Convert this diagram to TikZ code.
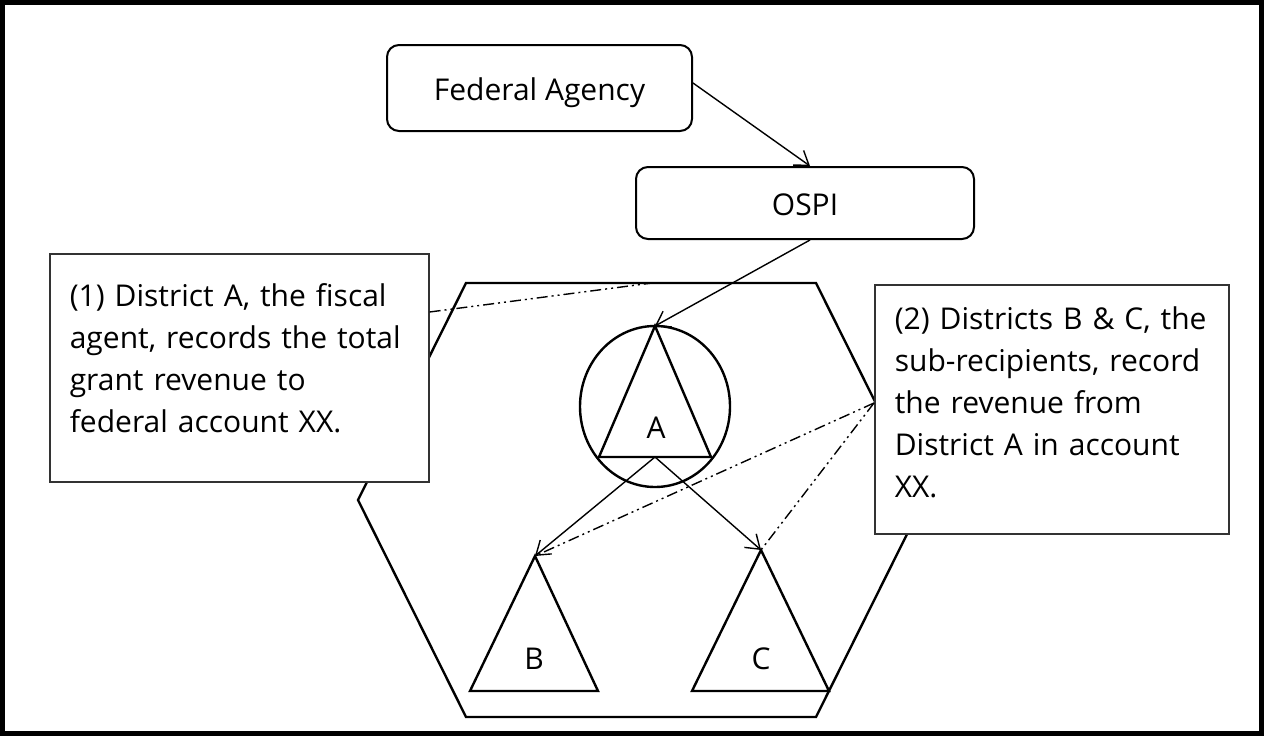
\documentclass[tikz,border=0pt]{standalone}
\usepackage{fontspec}
\setmainfont{Open Sans}
\usetikzlibrary{arrows.meta,shapes.geometric,calc}
\tikzset{
  frame/.style={line width=5pt},
  hexline/.style={line width=2.4pt, line join=miter},
  tri/.style={line width=2.4pt, line join=miter},
  roundbox/.style={draw, line width=2pt, rounded corners=12pt, fill=white, inner sep=0pt, text height=24pt, text depth=0pt},
  notebox/.style={draw=black!80, line width=1.6pt, fill=white, align=left, inner sep=20pt, anchor=north west, text height=23pt},
  flow/.style={line width=1.4pt, -{Straight Barb[length=13pt,width=18pt]}},
  callout/.style={line width=1.4pt, dash pattern=on 11pt off 4pt on 2pt off 4pt on 2pt off 4pt},
  lbl/.style={anchor=base, inner sep=0pt},
}
\begin{document}
\begin{tikzpicture}[x=1pt,y=-1pt,font=\fontsize{30}{42}\selectfont]
\useasboundingbox (0,0) rectangle (1264,736);
\draw[frame] (2.5,2.5) rectangle (1261.5,733.5);

% hexagon
\draw[hexline] (466,283) -- (816,283) -- (924,500) -- (816,717) -- (466,717) -- (358,500) -- cycle;

% shape coordinates
\coordinate (Atop) at (655,326);
\coordinate (Abl) at (599,457);
\coordinate (Abr) at (711,457);
\coordinate (Abase) at (655,457);
\coordinate (Btop) at (535,556);
\coordinate (Bl) at (470,691);
\coordinate (Br) at (598,691);
\coordinate (Ctop) at (761,550);
\coordinate (Cl) at (692,691);
\coordinate (Cr) at (829,691);
\coordinate (hexTop) at (652,283);

% district A circle and triangles
\node[ellipse, draw, line width=2.4pt, minimum width=150pt, minimum height=161pt, inner sep=0pt] (circA) at (655,406.5) {};
\draw[tri] (Atop) -- (Abr) -- (Abl) -- cycle;
\draw[tri] (Btop) -- (Br) -- (Bl) -- cycle;
\draw[tri] (Ctop) -- (Cr) -- (Cl) -- cycle;
\node[lbl] (labA) at (656,438) {A};
\node[lbl] (labB) at (534,669) {B};
\node[lbl] (labC) at (761,669) {C};

% top boxes
\node[roundbox, minimum width=305pt, minimum height=86pt] (FA) at (539.5,88) {Federal Agency};
\node[roundbox, minimum width=338pt, minimum height=72pt] (OSPI) at (805,203) {OSPI};

% note boxes: text placed so that baselines fall at 305 (box1) and 329 (box2)
\node[notebox, minimum width=379pt, minimum height=228pt, text width=339pt, text depth=146pt] (box1) at (49,253)
  {(1) District A, the fiscal\\agent, records the total\\grant revenue to\\federal account XX.};
\node[notebox, minimum width=354pt, minimum height=249pt, text width=314pt, text depth=182pt] (box2) at (874,284)
  {(2) Districts B \& C, the\\sub-recipients, record\\the revenue from\\District A in account\\XX.};

% connectors
\draw[flow] ($(FA.east)+(0,-5)$) -- ($(OSPI.north)+(5,0)$);
\draw[flow] ($(OSPI.south)+(5,0)$) -- (Atop);
\draw[flow] (Abase) -- (Btop);
\draw[flow] (Abase) -- (Ctop);

% callout pointers
\draw[callout] ($(box1.north east)+(0,59)$) -- (hexTop);
\draw[callout] ($(box2.north west)+(0,119)$) -- (Btop);
\draw[callout] ($(box2.north west)+(0,119)$) -- (Ctop);
\end{tikzpicture}
\end{document}
